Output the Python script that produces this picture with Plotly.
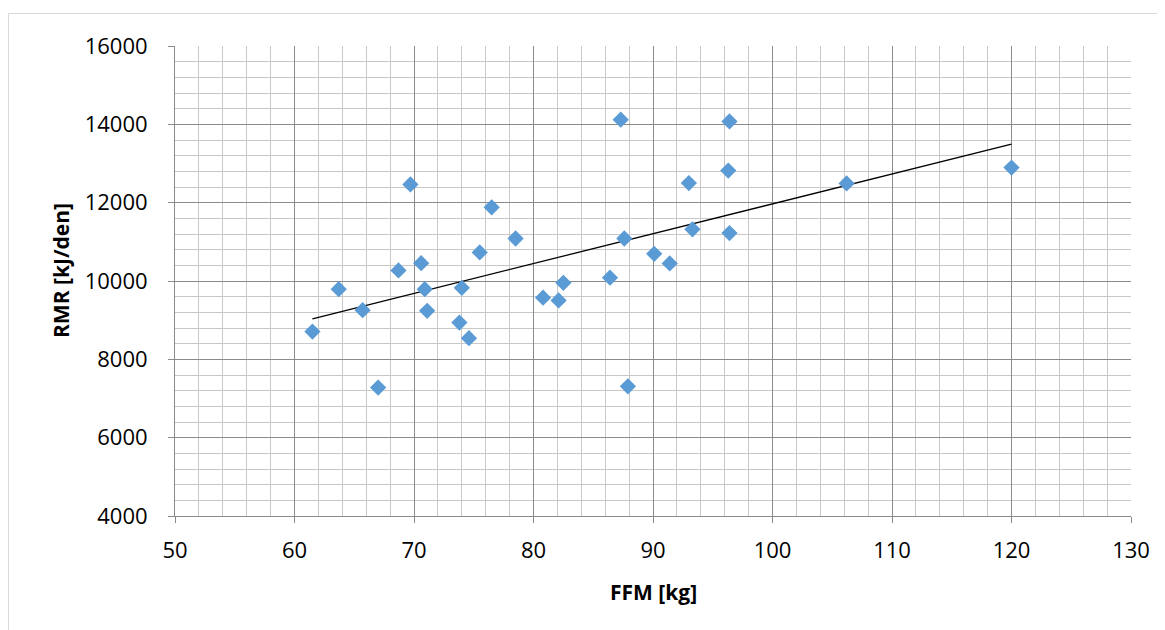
import numpy as np
import plotly.graph_objects as go

ffm = [61.5, 63.7, 65.7, 67.0, 68.7, 69.7, 70.6, 70.9, 71.1, 73.8, 74.0, 74.6, 75.5,
       76.5, 78.5, 80.8, 82.1, 82.5, 86.4, 87.3, 87.6, 87.9, 90.1, 91.4, 93.0, 93.3,
       96.4, 96.3, 96.4, 106.2, 120.0]
rmr = [8710, 9790, 9255, 7280, 10270, 12465, 10455, 9790, 9240, 8940, 9825, 8540, 10730,
       11880, 11085, 9575, 9505, 9955, 10085, 14120, 11085, 7310, 10695, 10450, 12500, 11320,
       14075, 12820, 11225, 12490, 12895]

x_ticks = [50, 60, 70, 80, 90, 100, 110, 120, 130]
y_ticks = [4000, 6000, 8000, 10000, 12000, 14000, 16000]
y_tick_labels = ["4000", "6000", "8000", "10000", "12000", "14000", "16000"]

slope, intercept = np.polyfit(ffm, rmr, 1)
trend_x = [min(ffm), max(ffm)]
trend_y = [slope * v + intercept for v in trend_x]

# page has an 8px body margin; figure is offset by it
OFF = 8
W, H = 1165 - OFF, 630 - OFF
L, R, T, B = 175 - OFF, 34, 46 - OFF, 114
pw = W - L - R
ph = H - T - B


def px2paper(px, py):
    """page pixel -> paper fraction"""
    fx = px - OFF
    fy = py - OFF
    return (fx - L) / pw, ((H - fy) - B) / ph


fig = go.Figure()
fig.add_trace(go.Scatter(x=trend_x, y=trend_y, mode="lines",
                         line=dict(color="black", width=1.3), hoverinfo="skip"))
fig.add_trace(go.Scatter(x=ffm, y=rmr, mode="markers",
                         marker=dict(symbol="diamond", size=12.5, color="#5B9BD5",
                                     line=dict(width=0))))

font = "Open Sans, Lato, sans-serif"
ax_x, ay_x = px2paper(653, 592)
ax_y, ay_y = px2paper(61, 271)
bx0, by0 = px2paper(8.5, 660)
bx1, by1 = px2paper(8.5, 13.5)
bx2, by2 = px2paper(1190, 13.5)

fig.update_layout(
    width=W, height=H,
    margin=dict(l=L, r=R, t=T, b=B, autoexpand=False),
    paper_bgcolor="white", plot_bgcolor="white",
    showlegend=False,
    font=dict(family=font, size=22, color="black"),
    xaxis=dict(range=[50, 130], tickvals=x_ticks, showgrid=True, gridcolor="#8A8A8A",
               gridwidth=1, zeroline=False, showline=True, linecolor="#8A8A8A",
               ticks="outside", ticklen=6, tickcolor="#8A8A8A",
               minor=dict(dtick=2, showgrid=True, gridcolor="#C8C8C8", gridwidth=1),
               tickfont=dict(size=22), ticklabelstandoff=9, automargin=False),
    yaxis=dict(range=[4000, 16000], tickvals=y_ticks, ticktext=y_tick_labels,
               showgrid=True, gridcolor="#8A8A8A",
               gridwidth=1, zeroline=False, showline=True, linecolor="#8A8A8A",
               ticks="outside", ticklen=6, tickcolor="#8A8A8A",
               minor=dict(dtick=400, showgrid=True, gridcolor="#C8C8C8", gridwidth=1),
               tickfont=dict(size=22), ticklabelstandoff=16, automargin=False),
    annotations=[
        dict(text="<b>FFM [kg]</b>", x=ax_x, y=ay_x, xref="paper", yref="paper",
             xanchor="center", yanchor="middle", showarrow=False, font=dict(size=21)),
        dict(text="<b>RMR [kJ/den]</b>", x=ax_y, y=ay_y, xref="paper", yref="paper",
             xanchor="center", yanchor="middle", showarrow=False, textangle=-90,
             font=dict(size=21)),
    ],
    shapes=[dict(type="path", xref="paper", yref="paper",
                 path=f"M {bx0} {by0} L {bx1} {by1} L {bx2} {by2}",
                 line=dict(color="#D9D9D9", width=1))],
)

fig.write_html("out.html")
